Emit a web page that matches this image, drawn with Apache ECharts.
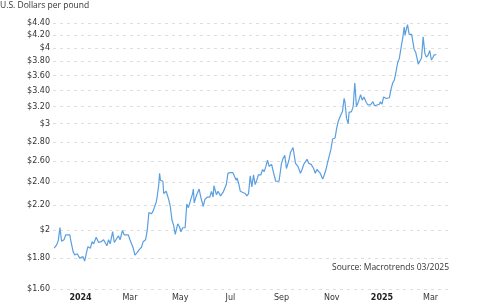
<!DOCTYPE html>
<html><head><meta charset="utf-8">
<script src="https://cdn.jsdelivr.net/npm/echarts@6/dist/echarts.min.js"></script>
<style>html,body{margin:0;padding:0;background:#fff}#c{width:480px;height:305px}</style>
</head><body><div id="c"></div>
<script>
const dates = [
'2023-11-30','2023-12-03','2023-12-05','2023-12-07','2023-12-09','2023-12-12','2023-12-14','2023-12-19','2023-12-20','2023-12-23',
'2023-12-25','2023-12-28','2023-12-31','2024-01-02','2024-01-04','2024-01-06','2024-01-09','2024-01-10','2024-01-13','2024-01-15',
'2024-01-17','2024-01-20','2024-01-23','2024-01-26','2024-01-29','2024-02-02','2024-02-04','2024-02-06','2024-02-09','2024-02-11',
'2024-02-13','2024-02-16','2024-02-18','2024-02-21','2024-02-23','2024-02-25','2024-02-28','2024-03-01','2024-03-03','2024-03-05',
'2024-03-07','2024-03-10','2024-03-12','2024-03-15','2024-03-17','2024-03-20','2024-03-22','2024-03-24','2024-03-27','2024-03-29',
'2024-04-02','2024-04-03','2024-04-05','2024-04-06','2024-04-07','2024-04-10','2024-04-11','2024-04-14','2024-04-17','2024-04-19',
'2024-04-21','2024-04-23','2024-04-25','2024-04-28','2024-04-30','2024-05-02','2024-05-04','2024-05-07','2024-05-09','2024-05-11',
'2024-05-13','2024-05-16','2024-05-17','2024-05-18','2024-05-21','2024-05-24','2024-05-26','2024-05-29','2024-05-31','2024-06-03',
'2024-06-06','2024-06-08','2024-06-10','2024-06-11','2024-06-14','2024-06-16','2024-06-19','2024-06-22','2024-06-26','2024-06-28',
'2024-07-01','2024-07-04','2024-07-05','2024-07-08','2024-07-09','2024-07-11','2024-07-13','2024-07-16','2024-07-19','2024-07-21',
'2024-07-23','2024-07-25','2024-07-27','2024-07-29','2024-07-31','2024-08-02','2024-08-04','2024-08-07','2024-08-09','2024-08-11',
'2024-08-13','2024-08-15','2024-08-17','2024-08-20','2024-08-22','2024-08-25','2024-08-29','2024-09-01','2024-09-03','2024-09-05',
'2024-09-07','2024-09-10','2024-09-12','2024-09-15','2024-09-17','2024-09-18','2024-09-21','2024-09-24','2024-09-26','2024-09-28',
'2024-09-30','2024-10-02','2024-10-04','2024-10-07','2024-10-10','2024-10-12','2024-10-14','2024-10-16','2024-10-18','2024-10-21',
'2024-10-23','2024-10-25','2024-10-27','2024-10-29','2024-10-31','2024-11-02','2024-11-05','2024-11-07','2024-11-09','2024-11-12',
'2024-11-14','2024-11-16','2024-11-17','2024-11-19','2024-11-21','2024-11-22','2024-11-25','2024-11-27','2024-11-29','2024-12-01',
'2024-12-03','2024-12-04','2024-12-06','2024-12-08','2024-12-10','2024-12-13','2024-12-15','2024-12-18','2024-12-21','2024-12-23',
'2024-12-26','2024-12-29','2024-12-30','2025-01-01','2025-01-03','2025-01-06','2025-01-07','2025-01-10','2025-01-12','2025-01-14',
'2025-01-16','2025-01-18','2025-01-20','2025-01-22','2025-01-24','2025-01-26','2025-01-28','2025-01-29','2025-01-31','2025-02-01',
'2025-02-03','2025-02-04','2025-02-06','2025-02-07','2025-02-09','2025-02-11','2025-02-13','2025-02-14','2025-02-16','2025-02-18',
'2025-02-20','2025-02-22','2025-02-24','2025-02-26','2025-02-28','2025-03-02','2025-03-04','2025-03-05','2025-03-08'
];
const prices = [
1.869,1.893,1.924,2.021,1.92,1.93,1.966,1.966,1.93,1.845,
1.822,1.83,1.80,1.787,1.81,1.78,1.857,1.88,1.869,1.916,
1.90,1.949,1.91,1.916,1.93,1.886,1.93,1.90,1.99,1.91,
1.916,1.96,1.93,2.00,1.966,1.955,1.966,1.93,1.94,1.87,
1.82,1.84,1.857,1.876,1.916,1.93,2.00,2.14,2.13,2.15,
2.23,2.27,2.38,2.485,2.42,2.41,2.30,2.32,2.25,2.19,
2.08,2.04,1.97,2.05,2.03,1.99,2.02,2.02,2.21,2.18,
2.19,2.30,2.34,2.22,2.29,2.34,2.27,2.19,2.25,2.27,
2.27,2.32,2.27,2.37,2.29,2.32,2.28,2.31,2.38,2.485,
2.49,2.49,2.49,2.42,2.44,2.39,2.32,2.31,2.30,2.28,
2.30,2.46,2.36,2.47,2.38,2.42,2.47,2.47,2.52,2.50,
2.55,2.61,2.55,2.57,2.50,2.41,2.41,2.58,2.63,2.66,
2.53,2.61,2.69,2.74,2.72,2.58,2.55,2.485,2.52,2.57,
2.57,2.62,2.58,2.57,2.53,2.485,2.52,2.53,2.485,2.43,
2.47,2.52,2.59,2.58,2.72,2.83,2.84,2.95,3.03,3.10,
3.14,3.30,3.26,3.06,3.00,3.13,3.14,3.20,3.50,3.20,
3.25,3.28,3.35,3.28,3.32,3.25,3.22,3.22,3.26,3.21,
3.22,3.23,3.26,3.23,3.32,3.30,3.30,3.31,3.42,3.50,
3.54,3.65,3.78,3.84,3.99,4.14,4.33,4.20,4.32,4.37,
4.21,4.22,4.21,4.22,3.98,3.93,3.82,3.76,3.78,3.85,
4.17,3.92,3.86,3.89,3.96,3.82,3.86,3.89,3.90
];
const yTicks = [1.6,1.8,2,2.2,2.4,2.6,2.8,3,3.2,3.4,3.6,3.8,4,4.2,4.4];
const xTicks = ['2024-01-01','2024-03-01','2024-05-01','2024-07-01','2024-09-01','2024-11-01','2025-01-01','2025-03-01'];
const monthNames = ['Jan','Feb','Mar','Apr','May','Jun','Jul','Aug','Sep','Oct','Nov','Dec'];
const titleText = 'U.S. Dollars per pound';
const sourceText = 'Source: Macrotrends 03/2025';

const toTs = s => { const p = s.split('-').map(Number); return new Date(p[0], p[1]-1, p[2]).getTime(); };
const seriesData = dates.map((d, i) => [toTs(d), prices[i]]);
const xTickTs = xTicks.map(toTs);

const chart = echarts.init(document.getElementById('c'), null, {renderer: 'canvas'});
chart.setOption({
  animation: false,
  backgroundColor: '#fff',
  title: {
    text: titleText, left: 0, top: 1, padding: 0,
    textStyle: {fontFamily: 'Open Sans', fontSize: 8.5, fontWeight: 'normal', color: '#333'}
  },
  graphic: [{
    type: 'text', right: 31, top: 263,
    style: {text: sourceText, font: '8.5px "Open Sans"', fill: '#333'}
  }],
  grid: {left: 53, right: 28, top: 22.7, bottom: 15.7, containLabel: false},
  xAxis: {
    type: 'value',
    min: new Date(2023, 10, 28, 14).getTime(),
    max: new Date(2025, 2, 27).getTime(),
    axisLine: {show: false},
    axisTick: {show: false, customValues: xTickTs},
    splitLine: {show: false},
    axisLabel: {
      customValues: xTickTs,
      margin: 5,
      fontFamily: 'DejaVu Sans', fontSize: 8, color: '#333',
      formatter: v => { const d = new Date(v); return d.getMonth() === 0 ? '{y|' + d.getFullYear() + '}' : monthNames[d.getMonth()]; },
      rich: {y: {fontFamily: 'DejaVu Sans', fontSize: 8, fontWeight: 'bold', color: '#222'}}
    }
  },
  yAxis: {
    type: 'log',
    logBase: 10,
    min: 1.599, max: 4.401,
    axisLine: {show: false},
    axisTick: {show: false, customValues: yTicks},
    axisLabel: {
      customValues: yTicks,
      margin: 3,
      fontFamily: 'DejaVu Sans', fontSize: 8, color: '#333',
      formatter: v => '$' + (Math.abs(v - Math.round(v)) < 1e-6 ? Math.round(v) : v.toFixed(2))
    },
    splitLine: {show: true, lineStyle: {color: '#ddd', type: [3, 4], width: 1}}
  },
  series: [{
    type: 'line', data: seriesData, showSymbol: false, symbol: 'none',
    lineStyle: {color: '#5a9fe0', width: 1.2}
  }]
});
</script>
</body></html>
